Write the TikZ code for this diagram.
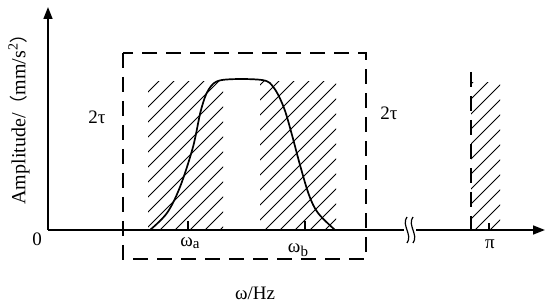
\documentclass[tikz,border=0pt]{standalone}
\usepackage{fontspec}
\setmainfont{Liberation Serif}
\newfontfamily\cjk{Noto Sans CJK SC}[Scale=0.9]
\usetikzlibrary{arrows.meta}
\tikzset{
  axisline/.style={line width=1.7pt},
  axisarrow/.style={axisline,-{Triangle[length=12pt,width=9pt]}},
  dashbox/.style={line width=1.8pt,dash pattern=on 15pt off 9pt},
  hatchline/.style={line width=0.8pt},
  curveline/.style={line width=1.7pt},
  lbl/.style={inner sep=0pt,font=\fontsize{19}{21}\selectfont},
  tick/.style={line width=1.2pt}
}
\newcommand{\hatchbox}[4]{% xl, xr, top, bottom
  \begin{scope}
    \clip (#1,#3) rectangle (#2,#4);
    \foreach \hx in {-200,-185,...,560}{
      \draw[hatchline] (\hx,#4) -- ++(200,-200);
    }
  \end{scope}}
\begin{document}
\begin{tikzpicture}[x=1pt,y=-1pt]
\useasboundingbox (0,0) rectangle (550,305);
% hatched regions
\hatchbox{148}{223}{82}{230}
\hatchbox{260}{336}{82}{230}
\hatchbox{471}{500}{83}{230}
% coordinates
\coordinate (O) at (48,230);
\coordinate (ytop) at (48,7);
\coordinate (brL) at (404,230);
\coordinate (brR) at (416,230);
\coordinate (xend) at (545,230);
\coordinate (bxA) at (123,53);
\coordinate (bxB) at (366,259);
\coordinate (vtop) at (471,72);
\coordinate (vbot) at (471,230);
% axes
\draw[axisarrow] (O) -- (ytop);
\draw[axisline] (O) -- (brL);
\draw[axisarrow] (brR) -- (xend);
% break marks
\draw[line width=1.2pt] (407,217) .. controls (401,225) and (413,235) .. (407,243);
\draw[line width=1.2pt] (413,217) .. controls (407,225) and (419,235) .. (413,243);
% dashed box
\draw[dashbox] (bxA) rectangle (bxB);
\draw[dashbox] (vtop) -- (vbot);
% ticks
\coordinate (ta) at (188,230);
\coordinate (tb) at (305,230);
\coordinate (tp) at (489,230);
\draw[tick] (ta) -- ++(0,-9);
\draw[tick] (tb) -- ++(0,-9);
\draw[tick] (tp) -- ++(0,-7);
% curve
\draw[curveline] plot[smooth,tension=0.55] coordinates {
  (150,230) (167,213) (180,187) (193,147) (201,110) (209,89) (222,80)
  (262,80) (274,88) (284,108) (292,135) (300,165) (309,195) (318,213) (335,230)};
% labels
\node[lbl] (zero) at (37,239) {0};
\node[lbl] (tauL) at (97,117) {2τ};
\node[lbl] (tauR) at (389,113) {2τ};
\node[lbl] (wa) at (190,243) {ω\raisebox{-2pt}{\fontsize{15}{17}\selectfont a}};
\node[lbl] (wb) at (298,250) {ω\raisebox{-4pt}{\fontsize{15}{17}\selectfont b}};
\node[lbl] (pi) at (490,244) {π};
\node[lbl] (xlab) at (255,293) {ω/Hz};
\node[lbl,rotate=90,font=\fontsize{20}{22}\selectfont] (ylab) at (19,115) {Amplitude/{\cjk （}mm/s\textsuperscript{2}{\cjk ）}};
\end{tikzpicture}
\end{document}
